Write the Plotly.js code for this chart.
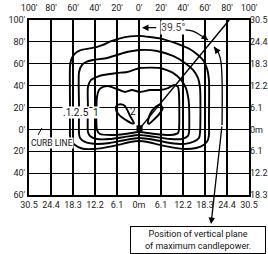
<!DOCTYPE html>
<html><head><meta charset="utf-8">
<script src="https://cdn.plot.ly/plotly-3.0.1.min.js"></script>
<style>html,body{margin:0;padding:0;background:#fff}#chart{width:268px;height:254px}</style>
</head><body><div id="chart"></div>
<script>
// Axis ticks (feet) and labels
const xTicks = [-100,-80,-60,-40,-20,0,20,40,60,80,100];
const xFeetLabels = ["100'","80'","60'","40'","20'","0'","20'","40'","60'","80'","100'"];
const xMeterLabels = ["30.5","24.4","18.3","12.2","6.1","0m","6.1","12.2","18.3","24.4","30.5"];
const yTicks = [-60,-40,-20,0,20,40,60,80,100];
const yFeetLabels = ["60'","40'","20'","0'","20'","40'","60'","80'","100'"];
const yMeterLabels = ["18.3","12.2","6.1","0m","6.1","12.2","18.3","24.4","30.5"];

// Isofootcandle contours (feet)
const c01X = [-62.7,-62.7,-62.7,-61.5,-58.5,-53,-45,-38,-32,-26,-18,-8,0,10,20,30,38,46,53,58.5,62,63.6,63.6,63.6,62.5,59,52,42,30,18,8,0,-8,-18,-30,-42,-52,-58.5,-62,-62.7];
const c01Y = [-6,20,58,64,69,72.5,74,75.5,77.5,80.5,83,85,85.5,84.5,83,80,77,73.5,68.5,63,55,45,10,-5,-10,-14,-17,-18,-16.5,-14,-11.5,-10.6,-11.5,-14,-16.5,-18,-17.5,-14,-10,-6];
const c02X = [-54.5,-54.5,-54.5,-51.8,-48.2,-41.8,-29.1,-20,-10.9,0.9,16.4,30.9,41.8,49.1,53.6,55.5,55.5,54.5,49.1,41.8,28.2,14.5,0,-12.7,-26.4,-40,-49.1,-53.6,-54.5];
const c02Y = [-4.2,20,52.5,58.9,61.6,63.4,65.3,68,70.7,72.6,71.7,67.1,60.7,54.3,47,37.8,-3,-7.9,-11.5,-13.3,-12.4,-9.7,-7.9,-9.7,-12.4,-13.3,-11.5,-7.9,-4.2];
const c05X = [-46.4,-46.4,-46.4,-43.6,-38.2,-32.7,-20,-10.9,0.9,19.1,30.9,38.2,42.7,44.5,45.5,45.5,44.5,39.1,28.2,14.5,0,-12.7,-26.4,-38.2,-44.5,-46.4];
const c05Y = [-2.4,20,38.8,45.2,47.9,49.7,51.6,52.5,56.1,56.1,51.6,45.2,37.8,30.5,22.3,-2.4,-6,-8.8,-8.8,-6.9,-5.1,-6.9,-8.8,-8.8,-6,-2.4];
const c1X = [-38.2,-38.2,-36.4,-32.7,-28.2,-20,-12.7,-6.4,0.9,10,19.1,26.4,31.8,35.5,36.4,36.4,35.5,28.2,14.5,0,-12.7,-24.5,-35.5,-38.2];
const c1Y = [-0.5,29.6,36,38.8,39.7,36.9,34.2,36,34.2,36,36,37.8,40.6,38.8,31.4,0,-3.3,-5.1,-4.2,-2.4,-4.2,-5.1,-4.2,-0.5];
const c2LeftX = [-4.5,-8,-10.5,-13,-17,-20.5,-21,-17.5,-11,-6.5,-4.5];
const c2LeftY = [5.5,12,17.5,21.5,23,21.5,18,12.5,8,5.5,5.5];
const c2RightX = [8,10,14.5,19,21.5,18,13,9,8];
const c2RightY = [6,14,20,22.5,19,13.5,8.5,5,6];

// Plane of maximum candlepower (39.5 deg) and angle arcs
const planeX = [0,82];
const planeY = [0,100];
const arcLeftX = [41.8,49,55.5,62.7];
const arcLeftY = [90.9,89.9,86.3,81.7];
const arcRightX = [75.5,75.5,74.5,72.7,70,68.2];
const arcRightY = [4,45.2,61.6,68.9,73.5,75.3];
const luminaireX = [0.5];
const luminaireY = [1];

const ln = {color:'#000', width:1.9, shape:'spline', smoothing:0.6};
function contour(x,y){return {x:x,y:y,type:'scatter',mode:'lines',line:ln,hoverinfo:'skip'};}
const traces = [
  contour(c01X,c01Y), contour(c02X,c02Y), contour(c05X,c05Y), contour(c1X,c1Y),
  contour(c2LeftX,c2LeftY), contour(c2RightX,c2RightY),
  {x:planeX,y:planeY,type:'scatter',mode:'lines',line:{color:'#000',width:1.5},hoverinfo:'skip'},
  {x:arcLeftX,y:arcLeftY,type:'scatter',mode:'lines',line:{color:'#000',width:1.3,shape:'spline'},hoverinfo:'skip'},
  {x:arcRightX,y:arcRightY,type:'scatter',mode:'lines',line:{color:'#000',width:1.3,shape:'spline'},hoverinfo:'skip'},
  {x:luminaireX,y:luminaireY,type:'scatter',mode:'markers',marker:{symbol:'square',size:6,color:'#000'},hoverinfo:'skip'},
  {x:[],y:[],xaxis:'x2',yaxis:'y2',type:'scatter',mode:'lines',hoverinfo:'skip'}
];

const tf = {family:'Roboto, sans-serif', size:9, color:'#222'};
const baseAx = {showgrid:false, zeroline:false, ticks:'', tickfont:tf, autorange:false, fixedrange:true};
const layout = {
  width:268, height:254,
  margin:{l:29, r:19, t:20, b:59, pad:0},
  paper_bgcolor:'#fff', plot_bgcolor:'#fff', showlegend:false,
  xaxis:Object.assign({}, baseAx, {range:[-100,100], tickvals:xTicks, ticktext:xMeterLabels, showgrid:true, gridcolor:'#000', gridwidth:1.2, showline:true, linecolor:'#000', linewidth:2, mirror:true}),
  yaxis:Object.assign({}, baseAx, {range:[-60,100], tickvals:yTicks, ticktext:yFeetLabels, showgrid:true, gridcolor:'#000', gridwidth:1.2, showline:true, linecolor:'#000', linewidth:2, mirror:true}),
  xaxis2:Object.assign({}, baseAx, {range:[-100,100], tickvals:xTicks, ticktext:xFeetLabels, overlaying:'x', side:'top', ticklabelstandoff:6}),
  yaxis2:Object.assign({}, baseAx, {range:[-60,100], tickvals:yTicks, ticktext:yMeterLabels, overlaying:'y', side:'right'}),
  shapes:[
    {type:'line', xref:'x', yref:'y', x0:-91.8, y0:-5.1, x1:-88.2, y1:1.3, line:{color:'#000', width:1}}
  ],
  annotations:[
    {x:-65.9, y:15, xref:'x', yref:'y', text:'.1', showarrow:false, bgcolor:'#fff', borderpad:0, font:{family:'Roboto, sans-serif', size:10, color:'#111'}},
    {x:-57.3, y:15, xref:'x', yref:'y', text:'.2', showarrow:false, bgcolor:'#fff', borderpad:0, font:{family:'Roboto, sans-serif', size:10, color:'#111'}},
    {x:-49.1, y:15, xref:'x', yref:'y', text:'.5', showarrow:false, bgcolor:'#fff', borderpad:0, font:{family:'Roboto, sans-serif', size:10, color:'#111'}},
    {x:-39.5, y:15, xref:'x', yref:'y', text:'1', showarrow:false, bgcolor:'#fff', borderpad:0, font:{family:'Roboto, sans-serif', size:10, color:'#111'}},
    {x:-5.5, y:15.9, xref:'x', yref:'y', text:'2', showarrow:false, font:{family:'Roboto, sans-serif', size:10, color:'#111'}},
    {x:-79, y:-12.4, xref:'x', yref:'y', text:'CURB LINE', showarrow:false, bgcolor:'#fff', borderpad:0, font:{family:'Roboto, sans-serif', size:8.5, color:'#111'}},
    {x:31, y:92.7, xref:'x', yref:'y', text:'39.5°', showarrow:false, bgcolor:'#fff', borderpad:0, font:{family:'Roboto, sans-serif', size:10.5, color:'#444'}},
    {x:2.7, y:93, xref:'x', yref:'y', ax:17, ay:93, axref:'x', ayref:'y', text:'', showarrow:true, arrowhead:2, arrowsize:1, arrowwidth:1.3, arrowcolor:'#000', standoff:0},
    {x:62.7, y:81.7, xref:'x', yref:'y', ax:57.5, ay:85.8, axref:'x', ayref:'y', text:'', showarrow:true, arrowhead:2, arrowsize:1, arrowwidth:1.3, arrowcolor:'#000', standoff:0},
    {x:68.2, y:75.3, xref:'x', yref:'y', ax:71.5, ay:71, axref:'x', ayref:'y', text:'', showarrow:true, arrowhead:2, arrowsize:1, arrowwidth:1.3, arrowcolor:'#000', standoff:0},
    {x:65.5, y:-0.1657, xref:'x', yref:'paper', ax:11, ay:-99, text:'', showarrow:true, arrowhead:2, arrowsize:1, arrowwidth:1.3, arrowcolor:'#000', standoff:0},
    {x:0.768, y:-0.257, xref:'paper', yref:'paper', xanchor:'center', yanchor:'middle', text:'Position of vertical plane<br>of maximum candlepower.', showarrow:false, bgcolor:'#fff', bordercolor:'#000', borderwidth:1, borderpad:1, width:132, height:24, font:{family:'Roboto, sans-serif', size:9, color:'#111'}}
  ]
};
Plotly.newPlot('chart', traces, layout, {staticPlot:true, displayModeBar:false});
</script>
</body></html>
